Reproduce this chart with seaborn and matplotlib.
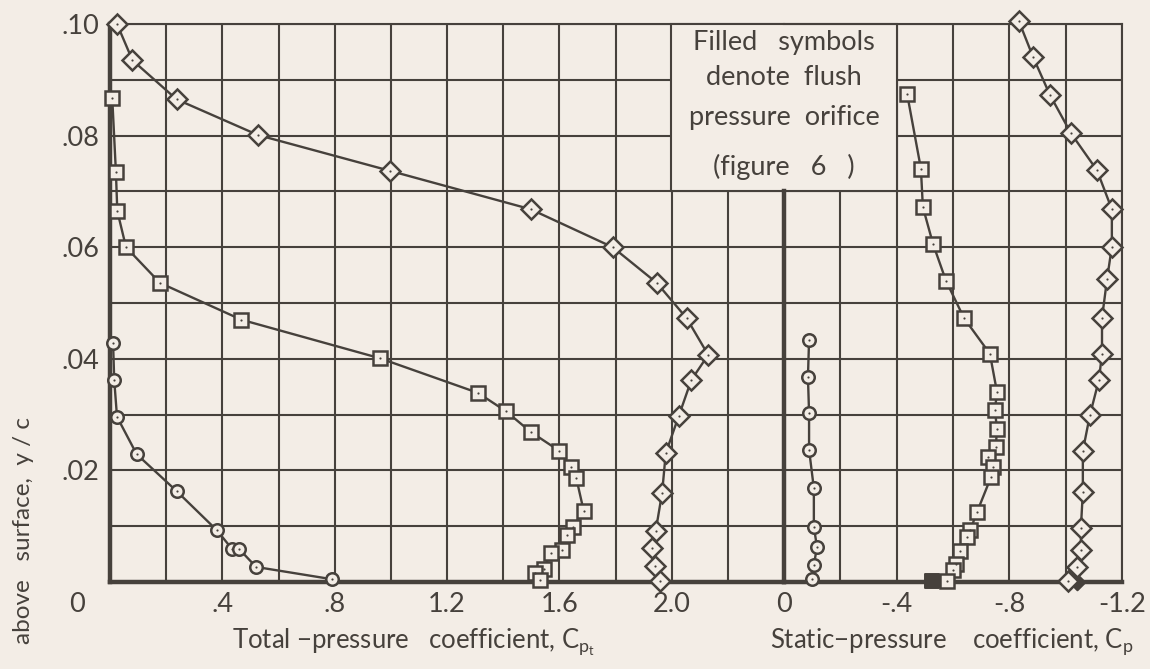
import numpy as np
import pandas as pd
import matplotlib
matplotlib.use("Agg")
import matplotlib.pyplot as plt
import seaborn as sns
from matplotlib.patches import Rectangle
from matplotlib.transforms import ScaledTranslation

# ---------------- data ----------------
# Total-pressure coefficient panel
tot_circ_x = [0.011, 0.015, 0.025, 0.095, 0.237, 0.380, 0.435, 0.46, 0.52, 0.79]
tot_circ_y = [0.0428, 0.0362, 0.0296, 0.0229, 0.0163, 0.0093, 0.0059, 0.0059, 0.0027, 0.0005]

tot_sq_x = [0.008, 0.021, 0.026, 0.057, 0.178, 0.468, 0.961, 1.31, 1.41, 1.498, 1.60,
            1.64, 1.66, 1.687, 1.648, 1.626, 1.608, 1.569, 1.545, 1.512, 1.53]
tot_sq_y = [0.0867, 0.0735, 0.0665, 0.0600, 0.0536, 0.0470, 0.0401, 0.0339, 0.0306, 0.0269, 0.0235,
            0.0206, 0.0187, 0.0127, 0.0099, 0.0084, 0.0057, 0.0052, 0.0023, 0.0016, 0.0004]

tot_dia_x = [0.025, 0.08, 0.237, 0.527, 0.996, 1.498, 1.79, 1.947, 2.053, 2.13, 2.07,
             2.025, 1.979, 1.966, 1.943, 1.930, 1.942, 1.957]
tot_dia_y = [0.100, 0.0935, 0.0865, 0.0801, 0.0737, 0.0668, 0.0600, 0.0536, 0.0473, 0.0407, 0.0362,
             0.0297, 0.0231, 0.0160, 0.0091, 0.0061, 0.0028, 0.0002]

# Static-pressure coefficient panel
st_circ_x = [-0.089, -0.085, -0.089, -0.089, -0.106, -0.106, -0.117, -0.106, -0.099]
st_circ_y = [0.0434, 0.0367, 0.0303, 0.0237, 0.0168, 0.0099, 0.0063, 0.0030, 0.0005]

st_sq_x = [-0.437, -0.486, -0.493, -0.529, -0.575, -0.639, -0.731, -0.756, -0.749, -0.756, -0.752,
           -0.724, -0.742, -0.735, -0.685, -0.662, -0.648, -0.625, -0.609, -0.601, -0.579]
st_sq_y = [0.0875, 0.0741, 0.0672, 0.0606, 0.0540, 0.0473, 0.0409, 0.0341, 0.0308, 0.0274, 0.0242,
           0.0224, 0.0206, 0.0188, 0.0125, 0.0094, 0.0080, 0.0056, 0.0033, 0.0021, 0.0002]
st_sq_filled_x = [-0.527]
st_sq_filled_y = [0.0002]

st_dia_x = [-0.834, -0.885, -0.944, -1.019, -1.111, -1.164, -1.164, -1.147, -1.129, -1.129, -1.118,
            -1.086, -1.061, -1.061, -1.054, -1.054, -1.042, -1.010]
st_dia_y = [0.1005, 0.0940, 0.0873, 0.0804, 0.0738, 0.0668, 0.0601, 0.0543, 0.0473, 0.0409, 0.0362,
            0.0299, 0.0235, 0.0161, 0.0097, 0.0058, 0.0027, 0.0002]
st_dia_filled_x = [-1.04]
st_dia_filled_y = [0.0]

# ticks / labels
tot_tick_vals = [0, 0.4, 0.8, 1.2, 1.6, 2.0]
tot_tick_labels = ["0", ".4", ".8", "1.2", "1.6", "2.0"]
st_tick_vals = [0, -0.4, -0.8, -1.2]
st_tick_labels = ["0", "-.4", "-.8", "-1.2"]
y_tick_vals = [0.02, 0.04, 0.06, 0.08, 0.10]
y_tick_labels = [".02", ".04", ".06", ".08", ".10"]
note_lines = ["Filled   symbols", "denote  flush", "pressure  orifice", "(figure   6   )"]

# ---------------- style ----------------
BG = "#F3EDE6"
INK = "#46413C"

sns.set_theme(style="white")
plt.rcParams['font.family'] = ['Lato', 'DejaVu Sans']
plt.rcParams['mathtext.fontset'] = 'custom'
plt.rcParams['mathtext.rm'] = 'Lato'
plt.rcParams['mathtext.it'] = 'Lato'
plt.rcParams['text.color'] = INK

W, H = 1150, 669
fig = plt.figure(figsize=(W / 100, H / 100), dpi=100, facecolor=BG)
L, R, T, B, MID = 110, 1122, 24, 582, 784
ax1 = fig.add_axes([L / W, 1 - B / H, (MID - L) / W, (B - T) / H])
ax2 = fig.add_axes([MID / W, 1 - B / H, (R - MID) / W, (B - T) / H])
ax1.set_facecolor(BG)
ax2.patch.set_visible(False)
ax2.set_zorder(ax1.get_zorder() + 1)

GRID_LW = 1.5
HEAVY_LW = 3.2


def series(ax, x, y, marker, ms, filled=False):
    df = pd.DataFrame({"x": x, "y": y})
    if filled:
        sns.scatterplot(data=df, x="x", y="y", ax=ax, marker=marker, s=ms ** 2,
                        color=INK, edgecolor=INK, linewidth=1.4, zorder=3.5, clip_on=False)
        return
    sns.lineplot(data=df, x="x", y="y", ax=ax, sort=False, estimator=None,
                 color=INK, lw=1.7, marker=marker, markersize=ms,
                 markerfacecolor=BG, markeredgecolor=INK, markeredgewidth=1.8,
                 zorder=4, clip_on=False)
    sns.scatterplot(data=df, x="x", y="y", ax=ax, marker="o", s=2.5, color=INK,
                    linewidth=0, zorder=5, clip_on=False)


series(ax1, tot_circ_x, tot_circ_y, "o", 9)
series(ax1, tot_sq_x, tot_sq_y, "s", 9.5)
series(ax1, tot_dia_x, tot_dia_y, "D", 10)

series(ax2, st_sq_filled_x, st_sq_filled_y, "s", 9.5, filled=True)
series(ax2, st_dia_filled_x, st_dia_filled_y, "D", 8, filled=True)
series(ax2, st_circ_x, st_circ_y, "o", 9)
series(ax2, st_sq_x, st_sq_y, "s", 9.5)
series(ax2, st_dia_x, st_dia_y, "D", 10)

# axes ranges, ticks, grid
ax1.set_xlim(0, 2.4)
ax2.set_xlim(0, -1.2)
for ax in (ax1, ax2):
    ax.set_ylim(0, 0.10)
    ax.set_yticks(y_tick_vals)
    ax.set_yticks(np.round(np.arange(0, 0.1001, 0.01), 3), minor=True)
    ax.grid(True, which="both", color=INK, lw=GRID_LW)
    ax.set_axisbelow(True)
    ax.tick_params(which="both", length=0, colors=INK)
    for s in ax.spines.values():
        s.set_color(INK)
        s.set_linewidth(GRID_LW)
        s.set_visible(True)
    ax.spines["bottom"].set_linewidth(HEAVY_LW)
    ax.set_xlabel("")
    ax.set_ylabel("")

ax1.set_xticks(tot_tick_vals, tot_tick_labels)
ax1.set_xticks(np.round(np.arange(0, 2.4001, 0.2), 2), minor=True)
ax1.set_yticklabels(y_tick_labels)
ax1.spines["left"].set_linewidth(HEAVY_LW)
ax1.spines["right"].set_visible(False)

ax2.set_xticks(st_tick_vals, st_tick_labels)
ax2.set_xticks(np.round(np.arange(0, -1.2001, -0.2), 2), minor=True)
ax2.tick_params(labelleft=False)
ax2.spines["left"].set_linewidth(HEAVY_LW)
ax2.spines["left"].set_bounds(0, 0.07)

for ax in (ax1, ax2):
    ax.tick_params(axis="x", labelsize=19.5, pad=7)
    ax.tick_params(axis="y", labelsize=19.5, pad=8)

# note box (blanks the grid behind it)
box = Rectangle((0.4, 0.07), -0.8, 0.03, facecolor=BG, edgecolor=INK, lw=GRID_LW,
                zorder=1.8, clip_on=False, transform=ax2.transData)
ax2.add_patch(box)
for txt, yy in zip(note_lines, [0.0966, 0.0905, 0.0833, 0.0744]):
    ax2.text(0.0, yy, txt, ha="center", va="center", fontsize=19.5, color=INK, zorder=3)

# axis labels
ax1.set_xlabel(r"Total $-$pressure   coefficient, $\mathrm{C_{p_t}}$", fontsize=18.5,
               color=INK, va="center")
ax1.xaxis.set_label_coords((414 - L) / (MID - L), (B - 642) / (B - T))
ax2.set_xlabel(r"Static$-$pressure    coefficient, $\mathrm{C_p}$", fontsize=18.5,
               color=INK, va="center")
ax2.xaxis.set_label_coords((952 - MID) / (R - MID), (B - 642) / (B - T))
ax1.set_ylabel("above   surface,  y / c", fontsize=17.5, color=INK, va="center")
ax1.yaxis.set_label_coords((23 - L) / (MID - L), (B - 530) / (B - T))

# shift the "0" of the total-pressure scale left as in the original
lab0 = ax1.get_xticklabels()[0]
lab0.set_transform(lab0.get_transform() + ScaledTranslation(-0.33, 0, fig.dpi_scale_trans))

fig.savefig("out.png", dpi=100, facecolor=BG)
